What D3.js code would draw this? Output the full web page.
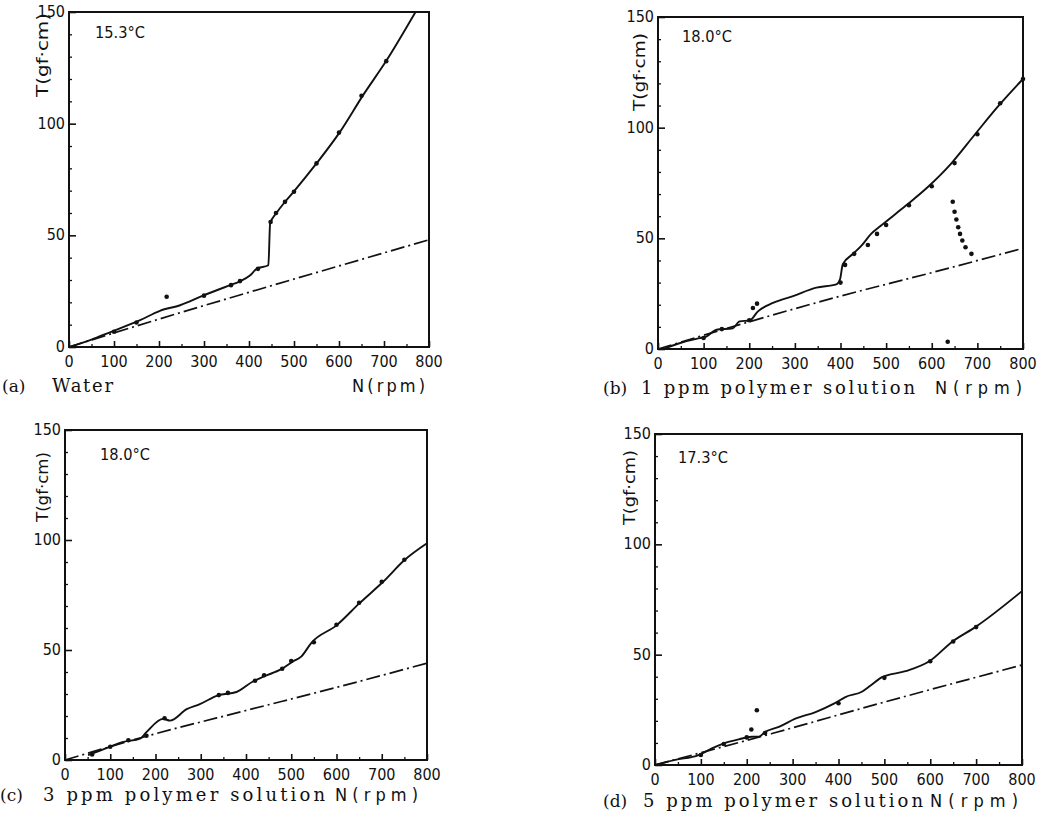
<!DOCTYPE html>
<html><head><meta charset="utf-8">
<script src="https://cdn.jsdelivr.net/npm/d3@7"></script>
<style>
html,body{margin:0;padding:0;background:#fff;}
svg{display:block;}
.tick-lbl{font-family:"DejaVu Sans Condensed","Liberation Sans Narrow",sans-serif;font-size:16px;fill:#111;}
.ylab,.temp,.nlab{font-family:"DejaVu Sans Condensed","Liberation Sans Narrow",sans-serif;fill:#111;}
.cap{font-family:"DejaVu Serif","Liberation Serif",serif;fill:#111;}
</style>
</head><body>
<svg id="c" width="1042" height="820"></svg>
<script>
// ---- data ----
const xTicks = [0,100,200,300,400,500,600,700,800];
const xTickLabels = ["0","100","200","300","400","500","600","700","800"];
const yTicks = [0,50,100,150];
const yTickLabels = ["0","50","100","150"];
const yMinorTicks = [10,20,30,40,60,70,80,90,110,120,130,140];
const xMinorTicks = [50,150,250,350,450,550,650,750];

const panelIds = ["(a)","(b)","(c)","(d)"];
const panelNames = ["Water","1 ppm polymer solution","3 ppm polymer solution","5 ppm polymer solution"];
const temperatures = ["15.3°C","18.0°C","18.0°C","17.3°C"];
const yAxisTitle = "T(gf·cm)";
const xAxisTitle = "N(rpm)";

const aSolid = [[0,0],[50,3.3],[91,6.6],[158,12],[202,16.2],[247,18.7],[298,23],[358,27.7],[380,29.4],[402,32],[417,35],[443,36.6],[447,55.3],[461,60],[480,65],[499,69.5],[550,82.2],[601,96],[654,112.9],[704,127.8],[770,150]];
const aDash = [[0,0],[200,12.5],[400,24.5],[600,36.3],[800,48]];
const aDots = [[100,6.8],[150,11],[217,22.5],[300,23],[360,27.7],[380,29.5],[420,35],[448,56],[460,60],[480,65],[500,69.5],[550,82.2],[600,96],[650,112.5],[705,128]];

const bSolid = [[12,0],[47,2.6],[91,4.9],[106,5.6],[128,8.7],[164,9.4],[179,12.5],[201,12.9],[219,17],[252,20.8],[296,23.9],[347,27.7],[391,29.2],[399,31.5],[405,38.3],[427,42.9],[446,46.7],[467,52],[489,55.8],[544,64.9],[592,73.3],[643,83.9],[694,96.8],[749,110.5],[800,122]];
const bDash = [[0,0],[200,12.3],[400,23.9],[600,34.5],[800,45.5]];
const bDots = [[100,5],[140,9],[200,13],[400,30],[410,38],[430,43],[460,47],[480,52],[500,56],[550,65],[600,73.5],[650,84],[700,97],[750,111],[800,122],[208,18.5],[217,20.5],[635,3.3],[646,66.5],[650,62],[654,58.5],[658,55],[662,52],[667,49],[674,46],[687,43]];

const cSolid = [[51,2.2],[99,6],[129,8.2],[166,9.7],[180,12.7],[217,18.7],[232,17.9],[269,23.1],[298,25.4],[338,29.4],[379,30.9],[416,35.8],[441,38.1],[478,41.3],[504,44.8],[522,47],[545,53.4],[600,61.2],[651,71.3],[703,81],[751,91],[800,98.5]];
const cDash = [[0,0],[180,10.8],[400,22.5],[600,33],[800,44]];
const cDots = [[60,2.5],[100,6],[140,9],[180,11],[220,19],[340,29.5],[360,30.5],[420,36],[440,38.5],[480,41.5],[500,45],[550,53.5],[600,61.5],[650,71.5],[700,81],[750,91]];

const dSolid = [[0,0],[44,2.3],[95,4.5],[124,7.5],[153,10],[182,11.6],[211,12.8],[226,12.8],[240,15],[270,17.3],[306,21],[350,24],[390,27.8],[415,30.8],[452,33.3],[470,36],[495,39.8],[546,42.5],[598,47],[648,55.9],[699,62.6],[800,78.8]];
const dDash = [[0,0],[259,14.5],[500,28.5],[800,45.3]];
const dDots = [[100,4.5],[150,9.5],[200,12.5],[240,14.5],[400,28],[500,39.5],[600,47],[650,56],[700,62.5],[210,16.1],[222,24.8]];

const solids = [aSolid,bSolid,cSolid,dSolid];
const dashes = [aDash,bDash,cDash,dDash];
const dots = [aDots,bDots,cDots,dDots];

// ---- layout ----
const frames = [
  {x0:69,x1:429,yb:347,yt:12, capY:392, capX:2, nameX:52, nameEnd:113, nX:352, nEnd:425, tempX:95, tempY:38, ylX:48, ylY:13, ylLen:84},
  {x0:658,x1:1023,yb:349,yt:17, capY:394, capX:603, nameX:641, nameEnd:915, nX:935, nEnd:1022, tempX:682, tempY:42, ylX:645, ylY:33, ylLen:78},
  {x0:65,x1:427,yb:760,yt:430, capY:801, capX:0, nameX:43, nameEnd:325, nX:335, nEnd:418, tempX:100, tempY:460, ylX:48, ylY:452, ylLen:70},
  {x0:655,x1:1022,yb:765,yt:434, capY:807, capX:603, nameX:643, nameEnd:923, nX:930, nEnd:1018, tempX:678, tempY:463, ylX:635, ylY:450, ylLen:75}
];

const svg = d3.select("#c");

frames.forEach((f,i)=>{
  const g = svg.append("g");
  const x = d3.scaleLinear().domain([0,800]).range([f.x0,f.x1]);
  const y = d3.scaleLinear().domain([0,150]).range([f.yb,f.yt]);

  g.append("rect").attr("x",f.x0).attr("y",f.yt).attr("width",f.x1-f.x0).attr("height",f.yb-f.yt)
    .attr("fill","none").attr("stroke","#111").attr("stroke-width",2);

  const yAx = d3.axisRight(y).tickValues(yTicks).tickSize(7).tickFormat("");
  const ya = g.append("g").attr("transform",`translate(${f.x0},0)`).call(yAx);
  ya.select(".domain").remove();
  ya.selectAll("line").attr("stroke","#111").attr("stroke-width",1.6);
  const yAxm = d3.axisRight(y).tickValues(yMinorTicks).tickSize(3).tickFormat("");
  const yam = g.append("g").attr("transform",`translate(${f.x0},0)`).call(yAxm);
  yam.select(".domain").remove();
  yam.selectAll("line").attr("stroke","#111").attr("stroke-width",1.3);

  const xAx = d3.axisTop(x).tickValues(xTicks).tickSize(6).tickFormat("");
  const xa = g.append("g").attr("transform",`translate(0,${f.yb})`).call(xAx);
  xa.select(".domain").remove();
  xa.selectAll("line").attr("stroke","#111").attr("stroke-width",1.6);
  const xAxm = d3.axisTop(x).tickValues(xMinorTicks).tickSize(3).tickFormat("");
  const xam = g.append("g").attr("transform",`translate(0,${f.yb})`).call(xAxm);
  xam.select(".domain").remove();
  xam.selectAll("line").attr("stroke","#111").attr("stroke-width",1.3);

  g.selectAll(".xl").data(xTicks).join("text").attr("class","tick-lbl")
    .attr("x",(d)=>x(d)).attr("y",f.yb+20).attr("text-anchor","middle")
    .text((d,k)=>xTickLabels[k]);
  g.selectAll(".yl").data(yTicks).join("text").attr("class","tick-lbl")
    .attr("x",f.x0-4).attr("y",(d)=>y(d)+5).attr("text-anchor","end")
    .text((d,k)=>yTickLabels[k]);

  g.append("text").attr("class","ylab")
    .attr("transform",`translate(${f.ylX},${f.ylY}) rotate(-90)`)
    .attr("text-anchor","end").attr("font-size",16)
    .attr("textLength",f.ylLen).attr("lengthAdjust","spacingAndGlyphs")
    .text(yAxisTitle);

  g.append("text").attr("class","temp").attr("x",f.tempX).attr("y",f.tempY)
    .attr("font-size",16).attr("textLength",50).attr("lengthAdjust","spacingAndGlyphs")
    .text(temperatures[i]);

  const line = d3.line().x(d=>x(d[0])).y(d=>y(d[1])).curve(d3.curveMonotoneX);
  g.append("path").datum(dashes[i]).attr("d",line)
    .attr("fill","none").attr("stroke","#111").attr("stroke-width",1.7)
    .attr("stroke-dasharray","14,4,2,4");
  g.append("path").datum(solids[i]).attr("d",line)
    .attr("fill","none").attr("stroke","#111").attr("stroke-width",1.9);
  g.selectAll(".dot").data(dots[i]).join("circle")
    .attr("cx",d=>x(d[0])).attr("cy",d=>y(d[1])).attr("r",2.3).attr("fill","#111");

  g.append("text").attr("class","cap").attr("x",f.capX).attr("y",f.capY)
    .attr("font-size",17).text(panelIds[i]);
  g.append("text").attr("class","cap").attr("x",f.nameX).attr("y",f.capY)
    .attr("font-size",18).attr("textLength",f.nameEnd-f.nameX).attr("lengthAdjust","spacing")
    .text(panelNames[i]);
  g.append("text").attr("class","nlab").attr("x",f.nX).attr("y",f.capY)
    .attr("font-size",18)
    .attr("textLength",f.nEnd-f.nX).attr("lengthAdjust","spacing")
    .text(xAxisTitle);
});
</script>
</body></html>
